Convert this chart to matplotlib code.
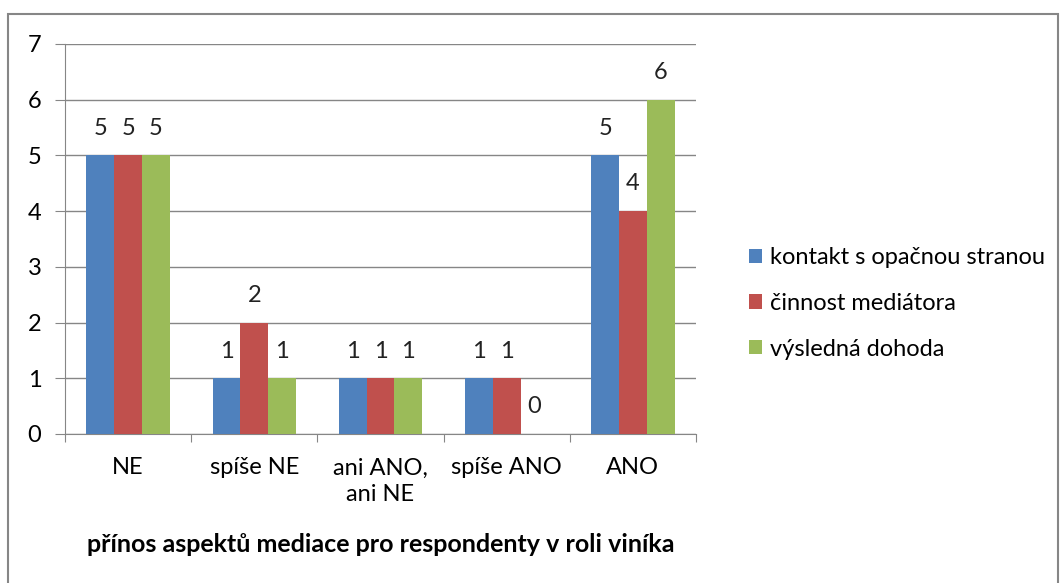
import matplotlib.pyplot as plt
import numpy as np
from matplotlib.patches import Rectangle

plt.rcParams['font.family'] = ['Lato', 'DejaVu Sans']

categories = ['NE', 'spíše NE', 'ani ANO,\nani NE', 'spíše ANO', 'ANO']
series_names = ['kontakt s opačnou stranou', 'činnost mediátora', 'výsledná dohoda']
kontakt = [5, 1, 1, 1, 5]
cinnost = [5, 2, 1, 1, 4]
dohoda = [5, 1, 1, 0, 6]
colors = ['#4f81bd', '#c0504d', '#9bbb59']

fig = plt.figure(figsize=(10.62, 5.83), dpi=100)
ax = fig.add_axes([65/1062, 1-434/583, 631/1062, 390/583])

# outer chart border
fig.patches.append(Rectangle((8/1062, -0.05), 1050/1062, 1.05 - 14/583,
                             transform=fig.transFigure, fill=False,
                             edgecolor='#868686', linewidth=1.5))

fs = 17
x = np.arange(len(categories))
w = 0.22
for i, (vals, name) in enumerate(zip([kontakt, cinnost, dohoda], series_names)):
    bars = ax.bar(x + (i-1)*w, vals, w, color=colors[i], label=name, zorder=3)
    for b, v in zip(bars, vals):
        ax.annotate(str(v), (b.get_x() + b.get_width()/2, v), xytext=(0, 12),
                    textcoords='offset points', ha='center', va='bottom',
                    fontsize=fs, color='#222222')

ax.set_xlim(-0.5, 4.5)
ax.set_ylim(0, 7)
ax.set_yticks(range(8))
ax.yaxis.grid(True, color='#868686', linewidth=1)
ax.set_axisbelow(True)
for s in ['top', 'right']:
    ax.spines[s].set_visible(False)
for s in ['left', 'bottom']:
    ax.spines[s].set_color('#868686')
ax.tick_params(axis='y', length=7, color='#868686', labelsize=fs, pad=10)
ax.set_xticks(np.arange(-0.5, 5, 1))
ax.set_xticklabels([])
ax.tick_params(axis='x', length=6, color='#868686')
for xi, c in zip(x, categories):
    ax.text(xi, -0.42, c, ha='center', va='top', fontsize=fs, linespacing=1.35)
ax.text(2, -1.99, 'přínos aspektů mediace pro respondenty v roli viníka',
        ha='center', va='center', fontsize=18, fontweight='bold')

ax.legend(loc='center left', bbox_to_anchor=(1.05, 0.335), frameon=False,
          fontsize=fs, handlelength=0.55, handleheight=0.55, labelspacing=1.05,
          handletextpad=0.35)

fig.savefig('out.png', dpi=100)
